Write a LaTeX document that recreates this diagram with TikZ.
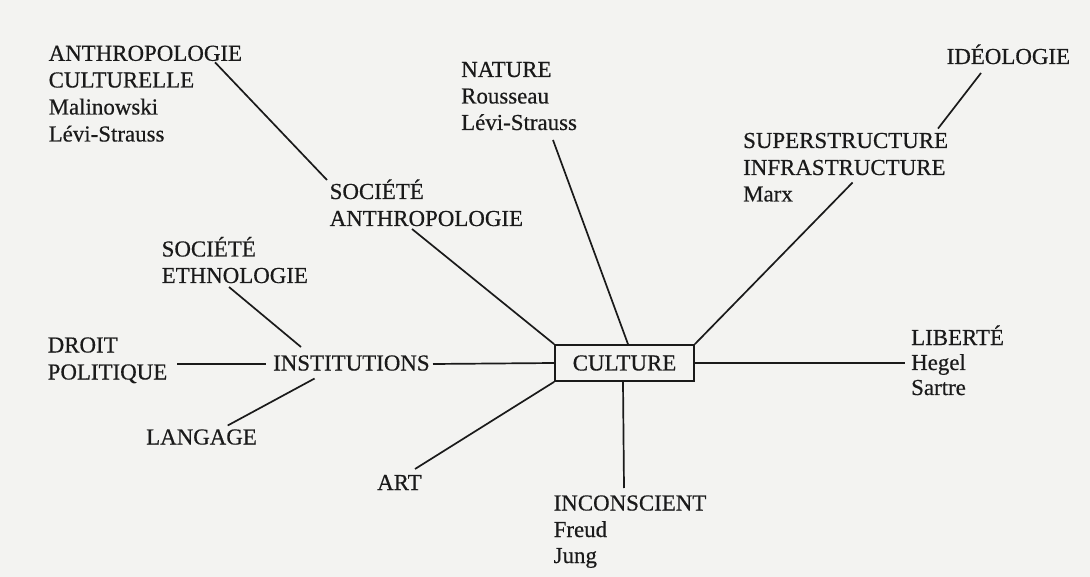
\documentclass[tikz,border=0pt]{standalone}
\usepackage{fontspec}
\setmainfont{Liberation Serif}[FakeBold=0.5]
\definecolor{paper}{HTML}{F3F3F1}
\definecolor{ink}{HTML}{1A1A1A}
\tikzset{
  lbl/.style={anchor=base west, inner sep=0pt, text=ink, font=\fontsize{22.9}{26.5}\selectfont},
  link/.style={draw=ink, line width=1.7pt},
  hub/.style={draw=ink, line width=1.7pt, minimum width=139pt, minimum height=36pt, inner sep=0pt, text=ink, font=\fontsize{22.9}{26.5}\selectfont}
}
\begin{document}
\begin{tikzpicture}[x=1pt,y=-1pt]
\fill[paper] (0,0) rectangle (1090,577);
\useasboundingbox (0,0) rectangle (1090,577);
% labels
\node[lbl] (anthA) at (48.5,60.8) {ANTHROPOLOGIE};
\node[lbl] (anthB) at (48.5,87.5) {CULTURELLE};
\node[lbl] (anthC) at (48.5,114.5) {Malinowski};
\node[lbl] (anthD) at (48.5,141.5) {Lévi-Strauss};
\node[lbl] (natA) at (461,77) {NATURE};
\node[lbl] (natB) at (461,103.5) {Rousseau};
\node[lbl] (natC) at (461,130) {Lévi-Strauss};
\node[lbl] (ideo) at (946.5,64) {IDÉOLOGIE};
\node[lbl] (supA) at (743,148) {SUPERSTRUCTURE};
\node[lbl] (supB) at (743,175) {INFRASTRUCTURE};
\node[lbl] (supC) at (743,201.5) {Marx};
\node[lbl] (socA) at (329.5,199) {SOCIÉTÉ};
\node[lbl] (socB) at (329.5,226) {ANTHROPOLOGIE};
\node[lbl] (ethA) at (161.5,256.5) {SOCIÉTÉ};
\node[lbl] (ethB) at (161.5,283) {ETHNOLOGIE};
\node[lbl] (droA) at (47.5,352.5) {DROIT};
\node[lbl] (droB) at (47.5,379.5) {POLITIQUE};
\node[lbl] (inst) at (273,370.5) {INSTITUTIONS};
\node[lbl] (lang) at (146,444.5) {LANGAGE};
\node[lbl] (art) at (377,490) {ART};
\node[lbl] (libA) at (911,345) {LIBERTÉ};
\node[lbl] (libB) at (911,370) {Hegel};
\node[lbl] (libC) at (911,395) {Sartre};
\node[lbl] (incA) at (553.5,510.5) {INCONSCIENT};
\node[lbl] (incB) at (553.5,537) {Freud};
\node[lbl] (incC) at (553.5,563) {Jung};
\node[hub] (cult) at (624.5,363) {CULTURE};
% connectors
\draw[link] ([shift={(166.5,1.5)}]anthA.base west) -- ([shift={(-2.5,-19)}]socA.base west);
\draw[link] ([shift={(82.5,3)}]socB.base west) -- (cult.north west);
\draw[link] ([shift={(67.5,4)}]ethB.base west) -- ([shift={(28,-23.5)}]inst.base west);
\draw[link] ([shift={(129.5,-15.5)}]droB.base west) -- ([shift={(-7,-6.5)}]inst.base west);
\draw[link] ([shift={(160,-6.5)}]inst.base west) -- (cult.west);
\draw[link] ([shift={(41.6,8)}]inst.base west) -- ([shift={(81.7,-19)}]lang.base west);
\draw[link] ([shift={(38,-21)}]art.base west) -- (cult.south west);
\draw[link] ([shift={(92,10)}]natC.base west) -- ([shift={(3.5,0)}]cult.north);
\draw[link] ([shift={(109.6,7.5)}]supB.base west) -- (cult.north east);
\draw[link] ([shift={(34.5,9)}]ideo.base west) -- ([shift={(195,-19.4)}]supA.base west);
\draw[link] (cult.east) -- ([shift={(-6,-7)}]libB.base west);
\draw[link] ([shift={(-1.5,0)}]cult.south) -- ([shift={(70.5,-22.5)}]incA.base west);
\end{tikzpicture}
\end{document}
